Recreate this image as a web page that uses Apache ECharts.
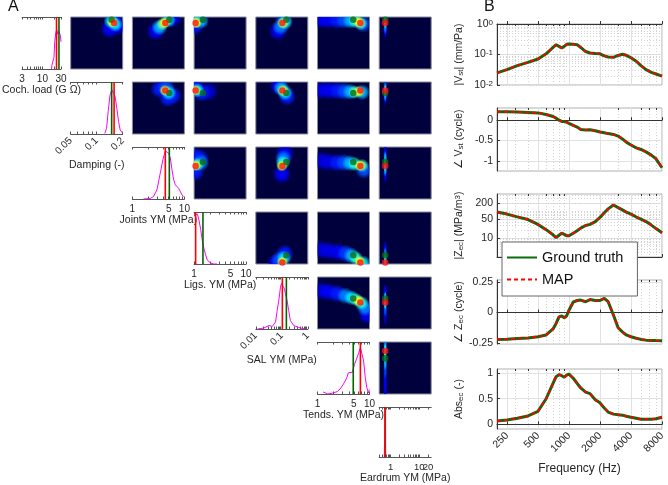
<!DOCTYPE html>
<html>
<head>
<meta charset="utf-8">
<script src="https://cdn.jsdelivr.net/npm/echarts@6/dist/echarts.min.js"></script>
<style>
  html, body { margin: 0; padding: 0; background: #fff; }
  #chart { width: 668px; height: 485px; }
</style>
</head>
<body>
<div id="chart"></div>
<script>
// ---- panel A : parameters ----
const paramNames = ['Coch. load (G Ω)', 'Damping (-)', 'Joints YM (MPa)', 'Ligs. YM (MPa)',
  'SAL YM (MPa)', 'Tends. YM (MPa)', 'Eardrum YM (MPa)'];
const paramMin = [3, 0.05, 1, 1, 0.01, 1, 0.4];
const paramMax = [30, 0.2, 10, 10, 1, 10, 26];
const paramTicks = [[3, 10, 30], [0.05, 0.1, 0.2], [1, 5, 10], [1, 5, 10], [0.01, 0.1, 1], [1, 5, 10], [1, 10, 20]];
const groundTruth = [26.6, 0.149, 5.13, 1.48, 0.15, 4.87, 0.65];
const mapEstimate = [23, 0.159, 4.29, 1.07, 0.105, 6.68, 0.65];

// marginal posteriors [value, density]
const histCoch = [[17.1, 0], [17.5, .07], [18.4, .14], [19.8, .23], [20.7, .54], [22, .72], [23.3, .78], [24.7, .69], [26.2, .75], [27.8, .78], [29, .66], [30, .54]];
const histDamp = [[.124, .01], [.130, .11], [.136, .45], [.142, .75], [.149, .88], [.156, .85], [.163, .75], [.171, .51], [.179, .25], [.187, .08], [.196, .03]];
const histJoints = [[1.63, 0], [2.2, .01], [2.55, .05], [2.96, .18], [3.43, .51], [3.86, .78], [4.29, .95], [4.62, .98], [4.98, .91], [5.36, .81], [5.77, .58], [6.22, .38], [6.7, .28], [7.77, .21], [9.0, .08], [9.7, .05]];
const histLigs = [[1.01, .97], [1.08, 1.0], [1.16, .99], [1.24, .87], [1.34, .68], [1.44, .46], [1.55, .3], [1.67, .18], [1.79, .08], [2.07, .02], [2.4, 0], [2.77, 0]];
const histSal = [[.0116, 0], [.0207, .02], [.032, .07], [.043, .05], [.0575, .14], [.0665, .37], [.077, .57], [.089, .83], [.097, .9], [.112, .93], [.126, .8], [.138, .7], [.159, .57], [.184, .37], [.213, .17], [.285, .07], [.44, .03], [.79, 0]];
const histTends = [[1.28, .04], [1.58, 0], [1.97, .02], [2.44, .05], [2.82, .12], [3.25, .22], [3.65, .32], [3.92, .42], [4.67, .43], [5.16, .59], [5.62, .69], [6.22, .82], [6.68, .92], [7.18, .79], [7.72, .65], [8.3, .32], [8.91, .12], [9.57, .02], [9.9, .09]];
const histEar = [[.6, 0], [.63, .03], [.65, 1], [.67, .03], [.7, 0]];
const histAll = [histCoch, histDamp, histJoints, histLigs, histSal, histTends, histEar];

// joint posteriors, key "row-col": [x param value, y param value, density level]
const blobs = {
  '0-1': [[.141, 17.5, .12], [.174, 20, .12], [.156, 28, .12], [.147, 25, .35], [.164, 21.7, .35], [.152, 23.8, .6]],
  '0-2': [[2.8, 16, .12], [5.9, 28.5, .12], [3.3, 19, .3], [4.9, 26, .35], [3.8, 22, .5], [4.2, 23.5, .62]],
  '0-3': [[1.02, 20, .15], [1.25, 27, .15], [1.35, 25, .3], [1.05, 24.5, .45], [1.1, 23, .62]],
  '0-4': [[.07, 16, .12], [.12, 27, .2], [.09, 19.5, .25], [.135, 24, .35], [.11, 23, .55]],
  '0-5': [[1.1, 27, .1], [1.6, 26.5, .12], [2.4, 26, .15], [7.5, 22, .2], [3.3, 26, .2], [4.3, 25.5, .3], [5.3, 25, .4], [6.8, 22.5, .45], [6.2, 24, .62]],
  '0-6': [[.65, 17, .12], [.65, 20, .25], [.65, 27.5, .3], [.65, 24, .45]],
  '1-2': [[3.3, .165, .15], [6, .14, .15], [4.8, .13, .15], [4.4, .172, .2], [5, .15, .35], [4.2, .16, .6]],
  '1-3': [[1.9, .155, .08], [1.05, .175, .15], [1.4, .15, .15], [1.15, .16, .4], [1.05, .16, .65]],
  '1-4': [[.075, .18, .12], [.16, .135, .15], [.095, .17, .3], [.135, .15, .35], [.11, .16, .55]],
  '1-5': [[1.1, .16, .1], [1.7, .16, .12], [2.5, .158, .15], [3.4, .156, .2], [4.3, .154, .3], [7.2, .152, .3], [5.2, .153, .45], [6.3, .155, .6]],
  '1-6': [[.65, .135, .12], [.65, .175, .2], [.65, .145, .3], [.65, .16, .45]],
  '2-3': [[1.05, 6.5, .15], [1.3, 6, .15], [1.05, 3.3, .15], [1.35, 5, .25], [1.15, 4.6, .45], [1.05, 4.4, .62]],
  '2-4': [[.1, 3, .12], [.13, 7.5, .12], [.115, 6, .25], [.11, 5, .4], [.1, 4.3, .6]],
  '2-5': [[1.1, 5.5, .08], [1.6, 5.2, .1], [2.4, 5, .15], [7.8, 3.6, .2], [3.3, 5, .2], [4.2, 4.9, .3], [5.2, 4.7, .4], [7.2, 4.4, .45], [6.5, 4.4, .62]],
  '2-6': [[.65, 3, .1], [.65, 7.8, .12], [.65, 3.8, .3], [.65, 6, .3], [.65, 4.6, .45]],
  '3-4': [[.06, 1.05, .12], [.13, 1.6, .15], [.08, 1.2, .2], [.12, 1.3, .35], [.105, 1.1, .6]],
  '3-5': [[1.1, 1.9, .08], [1.6, 1.8, .1], [2.5, 1.7, .12], [3.5, 1.6, .18], [4.5, 1.45, .3], [7.5, 1.05, .35], [5.5, 1.3, .42], [6.5, 1.12, .62]],
  '3-6': [[.65, 1.9, .1], [.65, 1.5, .25], [.65, 1.02, .3], [.65, 1.2, .4]],
  '4-5': [[1.1, .3, .08], [1.6, .27, .12], [9.2, .035, .12], [2.4, .23, .15], [3.4, .19, .25], [8.2, .065, .25], [4.5, .16, .35], [7, .1, .4], [5.6, .135, .45], [6.2, .12, .6]],
  '4-6': [[.65, .03, .08], [.65, .25, .12], [.65, .06, .2], [.65, .1, .4], [.65, .15, .4]],
  '5-6': [[.65, 1.2, .1], [.65, 1.8, .12], [.65, 2.8, .18], [.65, 8.5, .25], [.65, 4, .3], [.65, 7, .4], [.65, 5.5, .42]]
};

// ---- panel B : frequency responses ----
const freqHz = [200, 250, 315, 400, 500, 600, 700, 750, 800, 850, 900, 950, 1000, 1100, 1200, 1300, 1450, 1600, 1800, 2000, 2200, 2400, 2700, 3000, 3300, 3600, 4000, 4500, 5000, 5600, 6300, 7000, 8000];
const vstMag = [.025, .032, .043, .055, .071, .105, .17, .21, .185, .162, .185, .215, .22, .218, .21, .17, .125, .112, .108, .105, .09, .083, .081, .093, .102, .094, .078, .06, .043, .032, .026, .023, .0195];
const vstPhase = [.21, .21, .2, .19, .18, .14, .09, .05, 0, -.03, -.03, -.05, -.08, -.13, -.17, -.23, -.24, -.235, -.26, -.29, -.31, -.33, -.35, -.39, -.46, -.54, -.61, -.68, -.72, -.78, -.86, -.95, -1.17];
const zecMag = [95, 80, 63, 50, 33, 21, 13.5, 10.6, 13, 15.5, 14, 12.5, 12.5, 15.5, 19, 24, 30, 33, 42, 60, 90, 125, 175, 140, 115, 95, 80, 62, 52, 42, 31, 23, 16];
const zecPhase = [-.222, -.22, -.215, -.21, -.2, -.185, -.135, -.09, -.035, -.028, -.043, -.026, .02, .088, .1, .104, .09, .108, .1, .1, .118, .09, -.02, -.125, -.16, -.185, -.2, -.212, -.222, -.228, -.23, -.232, -.233];
const absEc = [.065, .085, .118, .165, .255, .5, .8, .93, .97, .95, .92, .96, .98, .9, .8, .71, .63, .6, .48, .42, .32, .24, .2, .19, .18, .16, .14, .12, .1, .1, .1, .11, .14];

const freqTicks = [250, 500, 1000, 2000, 4000, 8000];
const freqMinor = [200, 300, 400, 600, 700, 800, 900, 3000, 5000, 6000, 7000];
const vstMagTicks = [0.01, 0.1, 1];
const vstPhaseTicks = [-1, -0.5, 0];
const zecMagTicks = [10, 50, 200];
const zecPhaseTicks = [-0.25, 0, 0.25];
const absTicks = [0, 0.5, 1];

// ---------------------------------------------------------------
const lg = Math.log10;
const TXT = '#262626';
const CELL = 52, COL0 = 9, COLSTEP = 61.7, ROW0 = 17, ROWSTEP = 65;

function logMinors(lo, hi) {
  const out = [];
  for (let e = Math.floor(lg(lo)) - 1; e <= Math.ceil(lg(hi)); e++) {
    for (let m = 1; m < 10; m++) {
      const v = m * Math.pow(10, e);
      if (v >= lo * 0.999 && v <= hi * 1.001) out.push(lg(v));
    }
  }
  return out;
}
function fmtLogTick(list) {
  return function (v) {
    for (const t of list) if (Math.abs(lg(t) - v) < 1e-6) return String(t);
    return '';
  };
}
function jet(t) {
  const c = x => Math.max(0, Math.min(1, x));
  return [c(Math.min(4 * t - 1.5, -4 * t + 4.5)), c(Math.min(4 * t - 0.5, -4 * t + 3.5)), c(Math.min(4 * t + 0.5, -4 * t + 2.5))];
}
function rgba(c, a) {
  return 'rgba(' + Math.round(c[0] * 255) + ',' + Math.round(c[1] * 255) + ',' + Math.round(c[2] * 255) + ',' + a + ')';
}
function blobRenderer(sx) {
  return function (params, api) {
    const p = api.coord([api.value(0), api.value(1)]);
    const lev = api.value(2);
    const c = jet(lev);
    const r = 10.5 - 8 * lev;
    const cs = params.coordSys;
    return {
      type: 'group',
      clipPath: { type: 'rect', shape: { x: cs.x, y: cs.y, width: cs.width, height: cs.height } },
      children: [{
        type: 'circle', x: p[0], y: p[1], scaleX: sx,
        shape: { cx: 0, cy: 0, r: r },
        style: {
          fill: {
            type: 'radial', x: 0.5, y: 0.5, r: 0.5,
            colorStops: [{ offset: 0, color: rgba(c, 1) }, { offset: 0.5, color: rgba(c, 0.85) }, { offset: 1, color: rgba(c, 0) }]
          }
        }
      }]
    };
  };
}

const grid = [], xAxis = [], yAxis = [], series = [];

// diagonal: marginal histograms
for (let i = 0; i < 7; i++) {
  const g = grid.length;
  grid.push({ left: COL0 + COLSTEP * i, top: ROW0 + ROWSTEP * i, width: CELL, height: CELL });
  const lo = lg(paramMin[i]), hi = lg(paramMax[i]);
  const minors = logMinors(paramMin[i], paramMax[i]);
  const rot = (i === 1 || i === 4) ? 45 : 0;
  // the eardrum "20" sits too close to "10" for one axis, so it is drawn by the top axis below the box
  const split = i === 6 ? 2 : paramTicks[i].length;
  const lowTicks = paramTicks[i].slice(0, split), highTicks = paramTicks[i].slice(split);
  const fs = i === 6 ? 9.5 : 10;
  const xi = xAxis.length;
  const line = { lineStyle: { color: '#555', width: 1 } };
  xAxis.push({
    gridIndex: g, type: 'value', min: lo, max: hi, position: 'bottom',
    axisLine: line, axisTick: { inside: true, length: 2.5, customValues: minors, lineStyle: { color: '#555' } },
    axisLabel: {
      customValues: lowTicks.map(lg), formatter: fmtLogTick(lowTicks), hideOverlap: false,
      fontSize: fs, color: TXT, rotate: rot, margin: 5
    },
    splitLine: { show: false },
    name: paramNames[i], nameLocation: 'middle', nameGap: rot ? 25 : 16,
    nameTextStyle: { fontSize: 10.5, color: TXT }
  });
  xAxis.push({
    gridIndex: g, type: 'value', min: lo, max: hi, position: 'top',
    axisLine: line, axisTick: { inside: true, length: 2.5, customValues: minors, lineStyle: { color: '#555' } },
    axisLabel: highTicks.length
      ? { customValues: highTicks.map(lg), formatter: fmtLogTick(highTicks), fontSize: fs, color: TXT, margin: -(CELL + 5 + 8.5) }
      : { show: false },
    splitLine: { show: false }
  });
  const yi = yAxis.length;
  yAxis.push({ gridIndex: g, type: 'value', min: 0, max: 1.03, show: false });
  series.push({
    type: 'line', xAxisIndex: xi, yAxisIndex: yi, symbol: 'none', silent: true,
    lineStyle: { color: '#ff00ff', width: 1 },
    data: histAll[i].map(d => [lg(d[0]), d[1]])
  });
  series.push({
    type: 'line', xAxisIndex: xi, yAxisIndex: yi, symbol: 'none', silent: true,
    lineStyle: { color: '#006400', width: 1.6 },
    data: [[lg(groundTruth[i]), 0], [lg(groundTruth[i]), 1.03]]
  });
  series.push({
    type: 'line', xAxisIndex: xi, yAxisIndex: yi, symbol: 'none', silent: true,
    lineStyle: { color: '#ff0000', width: 1.6 },
    data: [[lg(mapEstimate[i]), 0], [lg(mapEstimate[i]), 1.03]]
  });
}

// upper triangle: joint posteriors
for (let i = 0; i < 7; i++) {
  for (let j = i + 1; j < 7; j++) {
    const g = grid.length;
    grid.push({
      left: COL0 + COLSTEP * j, top: ROW0 + ROWSTEP * i, width: CELL, height: CELL,
      show: true, backgroundColor: '#00003c', borderColor: '#8c8c9c', borderWidth: 1
    });
    const xi = xAxis.length, yi = yAxis.length;
    xAxis.push({ gridIndex: g, type: 'value', min: lg(paramMin[j]), max: lg(paramMax[j]), show: false });
    yAxis.push({ gridIndex: g, type: 'value', min: lg(paramMin[i]), max: lg(paramMax[i]), show: false });
    const pts = blobs[i + '-' + j].slice().sort((a, b) => a[2] - b[2]);
    series.push({
      type: 'custom', xAxisIndex: xi, yAxisIndex: yi, silent: true,
      renderItem: blobRenderer(j === 6 ? 0.22 : 1),
      data: pts.map(d => [lg(d[0]), lg(d[1]), d[2]])
    });
    series.push({
      type: 'scatter', xAxisIndex: xi, yAxisIndex: yi, silent: true, symbolSize: 6.5, z: 5,
      itemStyle: { color: '#0b6a12' },
      data: [[lg(groundTruth[j]), lg(groundTruth[i])]]
    });
    series.push({
      type: 'scatter', xAxisIndex: xi, yAxisIndex: yi, silent: true, symbolSize: 6.5, z: 6,
      itemStyle: { color: '#ff1010' },
      data: [[lg(mapEstimate[j]), lg(mapEstimate[i])]]
    });
  }
}

// panel B
const supRich = { sup: { fontSize: 8, verticalAlign: 'top', lineHeight: 8, color: TXT }, sub: { fontSize: 8, verticalAlign: 'bottom', lineHeight: 8, color: TXT } };
const panels = [
  { vals: vstMag, log: true, min: -2, max: 0, ticks: vstMagTicks, fmt: v => '10{sup|' + Math.round(v) + '}', name: '|V{sub|st}| (mm/Pa)' },
  { vals: vstPhase, log: false, min: -1.25, max: 0.3, ticks: vstPhaseTicks, fmt: v => String(Math.round(v * 100) / 100), name: '∠ V{sub|st} (cycle)' },
  { vals: zecMag, log: true, min: lg(2), max: lg(450), ticks: zecMagTicks, fmt: fmtLogTick(zecMagTicks), name: '|Z{sub|ec}| (MPa/m{sup|3})' },
  { vals: zecPhase, log: false, min: -0.26, max: 0.27, ticks: zecPhaseTicks, fmt: v => String(Math.round(v * 100) / 100), name: '∠ Z{sub|ec} (cycle)' },
  { vals: absEc, log: false, min: -0.09, max: 1.08, ticks: absTicks, fmt: v => String(Math.round(v * 100) / 100), name: 'Abs{sub|ec} (-)' }
];
const panelTop = [24, 108, 194, 280, 369];
const panelH = [61, 63, 63, 64, 60];
panels.forEach((pn, k) => {
  const g = grid.length;
  grid.push({ left: 497, top: panelTop[k], width: 165, height: panelH[k], show: true, borderColor: '#b0b0b0', borderWidth: 1, backgroundColor: '#fff' });
  const last = k === panels.length - 1;
  const xi = xAxis.length;
  xAxis.push({
    gridIndex: g, type: 'value', min: lg(200), max: lg(8000),
    axisLine: { lineStyle: { color: '#333' } },
    axisTick: { inside: true, length: 3, customValues: freqTicks.map(lg), lineStyle: { color: '#333' } },
    axisLabel: last ? { customValues: freqTicks.map(lg), formatter: fmtLogTick(freqTicks), rotate: 45, fontSize: 10.5, color: TXT, margin: 5 } : { show: false },
    splitLine: { show: true, lineStyle: { color: '#e2e2e2', width: 1 } },
    name: last ? 'Frequency (Hz)' : '', nameLocation: 'middle', nameGap: 34, nameTextStyle: { fontSize: 12, color: TXT }
  });
  xAxis.push({
    gridIndex: g, type: 'value', min: lg(200), max: lg(8000),
    axisLine: { show: false },
    axisTick: { inside: true, length: 2, customValues: freqMinor.map(lg), lineStyle: { color: '#333' } },
    axisLabel: { show: false },
    splitLine: { show: true, lineStyle: { color: '#d4d4d4', width: 1, type: [1, 2] } }
  });
  const yi = yAxis.length;
  const tf = pn.log ? lg : (v => v);
  yAxis.push({
    gridIndex: g, type: 'value', min: pn.min, max: pn.max,
    axisLine: { show: true, lineStyle: { color: '#333' } },
    axisTick: { show: true, inside: true, length: 3, customValues: pn.ticks.map(tf), lineStyle: { color: '#333' } },
    axisLabel: { customValues: pn.ticks.map(tf), formatter: pn.fmt, fontSize: 10.5, color: TXT, margin: 4, rich: supRich },
    splitLine: { show: true, lineStyle: { color: '#e2e2e2', width: 1 } },
    name: pn.name, nameLocation: 'middle', nameGap: 32, nameRotate: 90,
    nameTextStyle: { fontSize: 10.5, color: TXT, rich: supRich }
  });
  if (pn.log) {
    yAxis.push({
      gridIndex: g, type: 'value', min: pn.min, max: pn.max,
      axisLine: { show: false }, axisLabel: { show: false },
      axisTick: { show: false, customValues: logMinors(Math.pow(10, pn.min), Math.pow(10, pn.max)) },
      splitLine: { show: true, lineStyle: { color: '#d4d4d4', width: 1, type: [1, 2] } }
    });
  }
  const data = freqHz.map((f, n) => [lg(f), tf(pn.vals[n])]);
  series.push({
    type: 'line', name: 'Ground truth', xAxisIndex: xi, yAxisIndex: yi, symbol: 'none', silent: true,
    lineStyle: { color: '#0b6b0b', width: 3 }, itemStyle: { color: '#0b6b0b' }, data: data
  });
  series.push({
    type: 'line', name: 'MAP', xAxisIndex: xi, yAxisIndex: yi, symbol: 'none', silent: true,
    lineStyle: { color: '#ff0000', width: 2, type: [4, 3] }, itemStyle: { color: '#ff0000' }, data: data
  });
});

const chart = echarts.init(document.getElementById('chart'));
chart.setOption({
  animation: false,
  textStyle: { fontFamily: 'Liberation Sans, Arial, Helvetica, sans-serif' },
  title: [
    { text: 'A', left: 8, top: -1, padding: 0, textStyle: { fontSize: 16, fontWeight: 'normal', color: '#111' } },
    { text: 'B', left: 484, top: -1, padding: 0, textStyle: { fontSize: 16, fontWeight: 'normal', color: '#111' } }
  ],
  legend: {
    data: ['Ground truth', 'MAP'], orient: 'vertical', left: 502, top: 242,
    itemWidth: 30, itemHeight: 12, itemGap: 7,
    itemStyle: { opacity: 0 },
    textStyle: { fontSize: 14.5, color: '#111' },
    backgroundColor: '#fff', borderColor: '#666', borderWidth: 1, borderRadius: 0, padding: [8, 14, 9, 4]
  },
  grid: grid, xAxis: xAxis, yAxis: yAxis, series: series
});
</script>
</body>
</html>
